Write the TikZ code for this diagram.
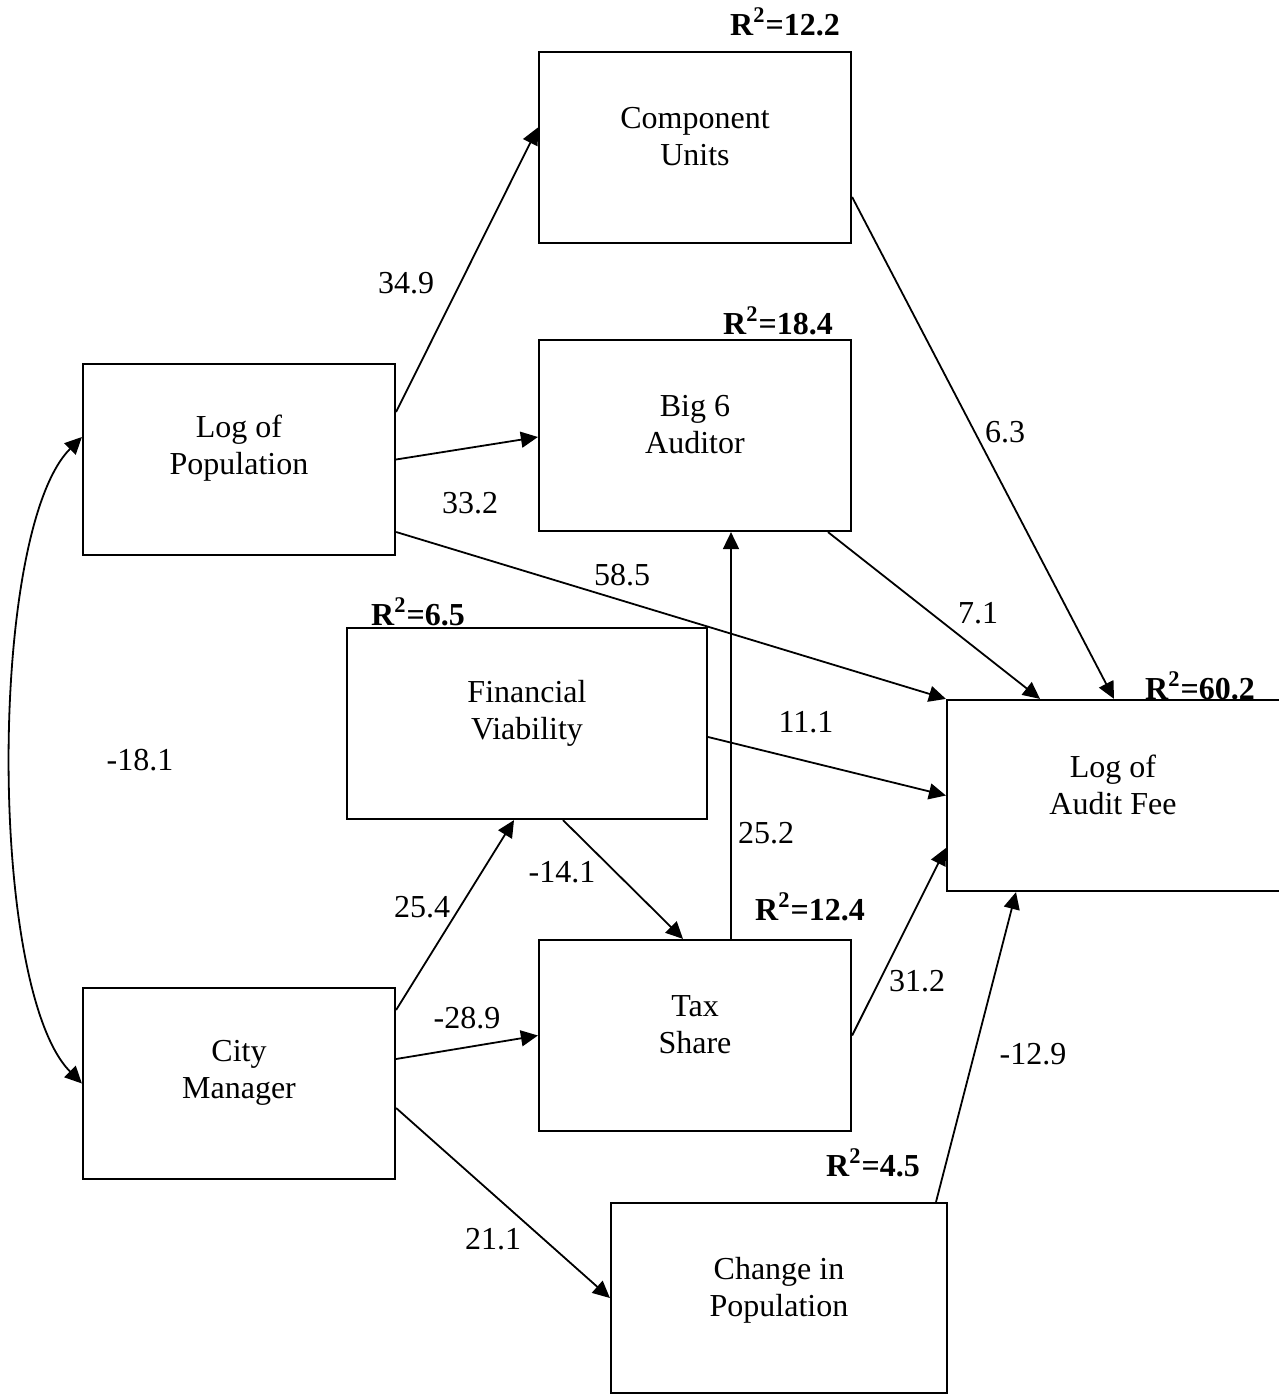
\documentclass[tikz,border=0pt]{standalone}
\usepackage{fontspec}
\setmainfont{Liberation Serif}
\usetikzlibrary{arrows.meta,calc}

\begin{document}
\begin{tikzpicture}[
  x=0.5pt,y=-0.5pt,
  var/.style={draw,line width=1.1pt,minimum width=156pt,minimum height=95.5pt,inner sep=0pt},
  txt/.style={align=center,font=\fontsize{16}{18.5}\selectfont,inner sep=0pt},
  coef/.style={font=\fontsize{16}{19}\selectfont,inner sep=0pt},
  rsq/.style={font=\fontsize{16}{19}\selectfont\bfseries,inner sep=0pt},
  arr/.style={-{Triangle[length=8.5pt,width=8pt]},line width=0.9pt},
  darr/.style={{Triangle[length=8.5pt,width=8pt]}-{Triangle[length=8.5pt,width=8pt]},line width=0.9pt}
]
\path[use as bounding box,fill=white] (0,0) rectangle (1278,1395);
% boxes
\node[var] (cu) at (695,147.5) {};
\node[var] (big) at (695,435.5) {};
\node[var] (lpop) at (239,459.5) {};
\node[var,minimum width=180pt] (fin) at (527,723.5) {};
\node[var,minimum width=167pt] (fee) at (1114,795.5) {};
\node[var] (cm) at (239,1083.5) {};
\node[var] (tax) at (695,1035.5) {};
\node[var,minimum width=168pt,minimum height=95pt] (chg) at (779,1298) {};
% box texts
\node[txt] (cuT) at (695,137) {Component\\Units};
\node[txt] (bigT) at (695,425) {Big 6\\Auditor};
\node[txt] (lpopT) at (239,448) {Log of\\Population};
\node[txt] (finT) at (527,713) {Financial\\Viability};
\node[txt] (feeT) at (1113,785) {Log of\\Audit Fee};
\node[txt] (cmT) at (239,1073) {City\\Manager};
\node[txt] (taxT) at (695,1025) {Tax\\Share};
\node[txt] (chgT) at (779,1290) {Change in\\Population};
% R squared
\node[rsq] (r2cu) at (785,22) {R\textsuperscript{2}=12.2};
\node[rsq] (r2big) at (778,321) {R\textsuperscript{2}=18.4};
\node[rsq] (r2fin) at (418,612) {R\textsuperscript{2}=6.5};
\node[rsq] (r2fee) at (1200,686) {R\textsuperscript{2}=60.2};
\node[rsq] (r2tax) at (810,907) {R\textsuperscript{2}=12.4};
\node[rsq] (r2chg) at (873,1163) {R\textsuperscript{2}=4.5};
% paths
\draw[arr] ($(lpop.east)+(0,-47.5)$) -- ($(cu.west)+(0,-20)$);
\draw[arr] (lpop.east) -- ($(big.west)+(0,1.5)$);
\draw[arr] ($(lpop.east)+(0,72.5)$) -- (fee.north west);
\draw[arr] ($(cu.east)+(0,49.5)$) -- (fee.north);
\draw[arr] ($(big.south)+(133,0)$) -- ($(fee.north)+(-74,0)$);
\draw[arr] ($(fin.east)+(0,13.5)$) -- (fee.west);
\draw[arr] (tax.east) -- ($(fee.west)+(0,52.5)$);
\draw[arr] ($(chg.north)+(157,0)$) -- ($(fee.south)+(-98,0)$);
\draw[arr] ($(tax.north)+(36,0)$) -- ($(big.south)+(36,0)$);
\draw[arr] ($(fin.south)+(36,0)$) -- ($(tax.north)+(-12,0)$);
\draw[arr] ($(cm.east)+(0,-73.5)$) -- ($(fin.south)+(-13,0)$);
\draw[arr] ($(cm.east)+(0,-24.5)$) -- (tax.west);
\draw[arr] ($(cm.east)+(0,24.5)$) -- (chg.west);
\draw[darr] ($(lpop.west)+(0,-22.5)$) .. controls (-12,531) and (-12,989) .. (cm.west);
% coefficients
\node[coef] (wpopcu) at (406,283) {34.9};
\node[coef] (wpopbig) at (470,503) {33.2};
\node[coef] (wpopfee) at (622,575) {58.5};
\node[coef] (wcufee) at (1005,432) {6.3};
\node[coef] (wbigfee) at (978,613) {7.1};
\node[coef] (wfinfee) at (806,722) {11.1};
\node[coef] (wtaxbig) at (766,833) {25.2};
\node[coef] (wfintax) at (562,872) {-14.1};
\node[coef] (wcmfin) at (422,907) {25.4};
\node[coef] (wcmtax) at (467,1018) {-28.9};
\node[coef] (wtaxfee) at (917,981) {31.2};
\node[coef] (wchgfee) at (1033,1054) {-12.9};
\node[coef] (wcmchg) at (493,1239) {21.1};
\node[coef] (wpopcm) at (140,760) {-18.1};
\end{tikzpicture}
\end{document}
